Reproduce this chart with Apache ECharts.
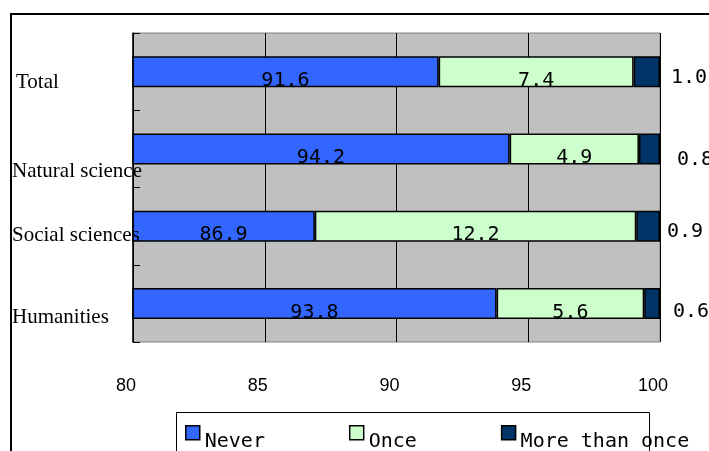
<!DOCTYPE html>
<html>
<head>
<meta charset="utf-8">
<script src="https://cdn.jsdelivr.net/npm/echarts@6/dist/echarts.min.js"></script>
<style>
  html, body { margin: 0; padding: 0; background: #fff; }
  #chart { width: 709px; height: 451px; }
</style>
</head>
<body>
<div id="chart"></div>
<script>
const categories = ['Total', 'Natural science', 'Social sciences', 'Humanities']
const seriesNames = ['Never', 'Once', 'More than once']
const never = [91.6, 94.2, 86.9, 93.8]
const once = [7.4, 4.9, 12.2, 5.6]
const moreThanOnce = [1.0, 0.8, 0.9, 0.6]
const xTicks = [80, 85, 90, 95, 100]

// label nudges (the labels sit off-centre in the original)
const catShift = [11, 23, 9, 14]
const catIndent = [4, 0, 0, 0]
const outerNudge = [[11, 6], [17, 11], [7, 6], [13, 8]]

const mono = 'DejaVu Sans Mono'
const colors = ['#3366ff', '#ccffcc', '#003366']

const rich = {}
categories.forEach((c, i) => {
  rich['t' + i] = {
    fontFamily: 'Liberation Serif',
    fontSize: 21,
    color: '#000',
    padding: [catShift[i] * 2, 0, 0, catIndent[i]]
  }
})

// 100% stacked, like the original: bars scaled to row total, labels keep raw values
const rowSum = categories.map((c, i) => never[i] + once[i] + moreThanOnce[i])
function toItems(arr, labelFn) {
  return arr.map((v, i) => {
    const item = { value: v / rowSum[i] * 100, raw: v }
    if (labelFn) item.label = labelFn(i)
    return item
  })
}

const chart = echarts.init(document.getElementById('chart'))

function barSeries(name, data, idx, label) {
  return {
    name: name,
    type: 'bar',
    stack: 'total',
    barWidth: 31,
    data: data,
    itemStyle: { color: colors[idx], borderColor: '#000', borderWidth: 1.5 },
    label: label,
    animation: false
  }
}

const fmt = p => p.data.raw.toFixed(1)

const inLabel = {
  show: true,
  position: 'inside',
  offset: [0, 9],
  fontFamily: mono,
  fontSize: 20,
  color: '#000',
  formatter: fmt
}

chart.setOption({
  animation: false,
  grid: {
    left: 133, right: 49, top: 33, bottom: 109,
    show: true,
    backgroundColor: '#c0c0c0',
    borderColor: '#808080',
    borderWidth: 1
  },
  legend: {
    data: seriesNames,
    left: 185,
    top: 425,
    padding: 0,
    itemWidth: 14,
    itemHeight: 14,
    itemGap: 84,
    icon: 'rect',
    itemStyle: { borderColor: '#000', borderWidth: 1.5 },
    formatter: n => '{a|' + n + '}',
    textStyle: {
      rich: { a: { fontFamily: mono, fontSize: 20, color: '#000', padding: [18, 0, 0, 0] } }
    }
  },
  xAxis: {
    type: 'value',
    min: xTicks[0],
    max: xTicks[xTicks.length - 1],
    interval: 5,
    axisLine: { show: false },
    axisTick: { show: false },
    splitLine: { show: true, lineStyle: { color: '#000', width: 1 } },
    axisLabel: {
      margin: 35,
      fontFamily: 'Liberation Sans',
      fontSize: 18,
      color: '#000',
      padding: [0, 14, 0, 0]
    }
  },
  yAxis: {
    type: 'category',
    inverse: true,
    z: 10,
    data: categories,
    axisLine: { show: true, lineStyle: { color: '#000', width: 1.5 } },
    axisTick: { show: true, inside: true, length: 7, lineStyle: { color: '#000' } },
    axisLabel: {
      align: 'left',
      margin: 121,
      width: 200,
      overflow: 'none',
      formatter: (v, i) => '{t' + i + '|' + v + '}',
      rich: rich
    }
  },
  graphic: [
    { type: 'line', z: 100, shape: { x1: 11, y1: 14, x2: 11, y2: 451 }, style: { stroke: '#000', lineWidth: 2 } },
    { type: 'line', z: 100, shape: { x1: 10, y1: 14, x2: 709, y2: 14 }, style: { stroke: '#000', lineWidth: 2 } },
    { type: 'rect', z: -1, shape: { x: 176.5, y: 412.5, width: 473, height: 60 }, style: { fill: '#fff', stroke: '#000', lineWidth: 1 } }
  ],
  series: [
    barSeries(seriesNames[0], toItems(never), 0, inLabel),
    barSeries(seriesNames[1], toItems(once), 1, inLabel),
    barSeries(seriesNames[2], toItems(moreThanOnce, i => ({
      distance: outerNudge[i][0],
      offset: [0, outerNudge[i][1]]
    })), 2, {
      show: true,
      position: 'right',
      fontFamily: mono,
      fontSize: 20,
      color: '#000',
      formatter: fmt
    })
  ]
})
</script>
</body>
</html>
